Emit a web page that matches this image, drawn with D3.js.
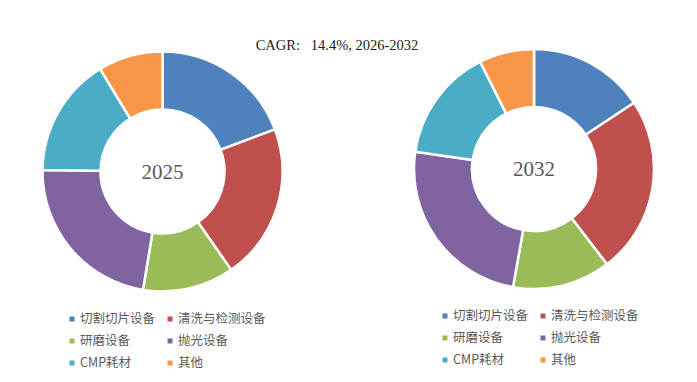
<!DOCTYPE html>
<html>
<head>
<meta charset="utf-8">
<script src="https://cdn.jsdelivr.net/npm/d3@7"></script>
<style>
  body { margin: 0; background: #fff; }
  svg { display: block; }
</style>
</head>
<body>
<div id="chart"></div>
<script>
// segment names (legend order)
const categories = ["切割切片设备", "清洗与检测设备", "研磨设备", "抛光设备", "CMP耗材", "其他"];
// shares (percent)
const values2025 = [19.3, 21.0, 12.3, 22.6, 16.1, 8.7];
const values2032 = [15.7, 23.9, 13.2, 24.5, 15.3, 7.4];
const years = ["2025", "2032"];
const titleText = "CAGR:   14.4%, 2026-2032";

const colors = ["#4F81BD", "#C0504D", "#9BBB59", "#8064A2", "#4BACC6", "#F79646"];

const width = 697, height = 382;
const svg = d3.select("#chart").append("svg")
    .attr("width", width).attr("height", height);

// title
svg.append("text")
    .attr("x", 337).attr("y", 50)
    .attr("text-anchor", "middle")
    .style("white-space", "pre")
    .style("font-family", "'Liberation Serif', 'DejaVu Serif', serif")
    .style("font-size", "14.5px")
    .style("fill", "#222")
    .text(titleText);

const color = d3.scaleOrdinal().domain(categories).range(colors);

//one donut per year
function drawDonut(values, year, cx, cy, legendX, legendY) {
    const g = svg.append("g").attr("transform", `translate(${cx},${cy})`);
    const pie = d3.pie().sort(null).value(d => d.value);
    const arc = d3.arc().innerRadius(62).outerRadius(120);
    const data = categories.map((c, i) => ({ name: c, value: values[i] }));

    g.selectAll("path")
        .data(pie(data))
        .enter()
        .append("path")
            .attr("d", arc)
            .attr("fill", d => color(d.data.name))
            .attr("stroke", "#fff")
            .attr("stroke-width", 2.5);

    g.append("text")
        .attr("text-anchor", "middle")
        .attr("dy", "0.35em")
        .style("font-family", "'Liberation Serif', 'DejaVu Serif', serif")
        .style("font-size", "21px")
        .style("fill", "#595959")
        .text(year);

    // legend, 2 columns x 3 rows
    const colX = d3.scaleOrdinal().domain([0, 1]).range([0, 98]);
    const rowY = d3.scalePoint().domain([0, 1, 2]).range([0, 44]);
    const lg = svg.append("g").attr("transform", `translate(${legendX},${legendY})`);
    const item = lg.selectAll("g.item")
        .data(categories)
        .enter()
        .append("g")
            .attr("class", "item")
            .attr("transform", (d, i) => `translate(${colX(i % 2)},${rowY(Math.floor(i / 2))})`);
    item.append("rect")
        .attr("x", -2.5).attr("y", -2.5)
        .attr("width", 5).attr("height", 5)
        .attr("fill", d => color(d));
    item.append("text")
        .attr("x", 8).attr("dy", "0.35em")
        .style("font-family", "'Noto Sans CJK SC', 'Noto Sans', sans-serif")
        .style("font-size", "12.5px")
        .style("fill", "#595959")
        .text(d => d);
}

drawDonut(values2025, years[0], 162.5, 171.5, 72, 319);
drawDonut(values2032, years[1], 534, 169, 445, 316);
</script>
</body>
</html>
